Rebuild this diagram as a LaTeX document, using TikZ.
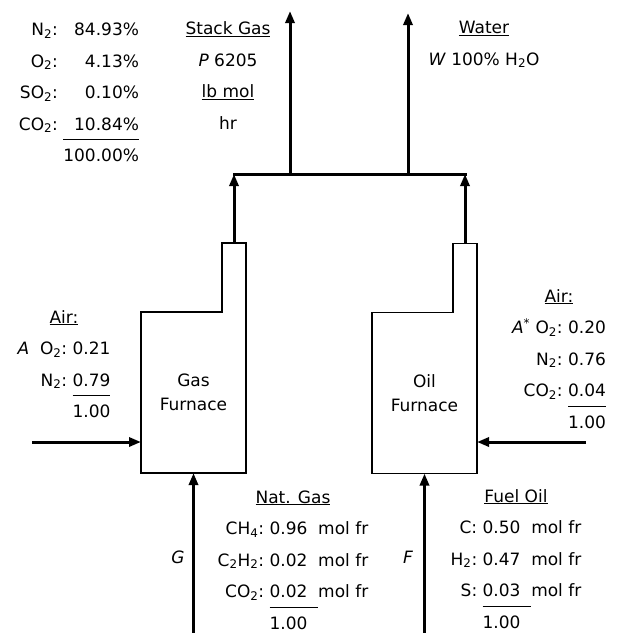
\documentclass[tikz,border=0pt]{standalone}
\usepackage{fontspec}
\setmainfont{DejaVu Sans}
\usetikzlibrary{arrows.meta,positioning}

\begin{document}
\begin{tikzpicture}[x=1pt, y=-1pt,
  font=\fontsize{17}{31.5}\selectfont,
  every node/.style={inner sep=0pt, outer sep=0pt},
  furnace/.style={minimum width=105pt, minimum height=161pt, align=center, font=\fontsize{17}{24}\selectfont},
  chimney/.style={minimum width=24pt, minimum height=69pt},
  unit/.style={line width=1.6pt, line join=miter},
  flow/.style={line width=3pt, -{Triangle[length=12pt, width=9pt]}},
  pipe/.style={line width=3pt, line cap=rect}]
\useasboundingbox (0,0) rectangle (623,633);

\node[furnace] (gas) at (193.5,392.5) {Gas\\Furnace};
\node[chimney, anchor=south east] (gaschim) at (gas.north east) {};
\draw[unit] (gas.south west) |- (gaschim.south west) |- (gaschim.north east) -- (gas.south east) -- cycle;

\node[furnace] (oil) at (424.5,393) {Oil\\Furnace};
\node[chimney, anchor=south east] (oilchim) at (oil.north east) {};
\draw[unit] (oil.south west) |- (oilchim.south west) |- (oilchim.north east) -- (oil.south east) -- cycle;

\coordinate (hdr) at (0,174);
\coordinate (floor) at (0,633);
\coordinate (stack) at (290,174);
\coordinate (stacktop) at (290,11);
\coordinate (water) at (408,174);
\coordinate (watertop) at (408,13);
\coordinate (airA) at (32,442);
\coordinate (airB) at (586,442);

\draw[flow] (gaschim.north) -- (gaschim.north |- hdr);
\draw[flow] (oilchim.north) -- (oilchim.north |- hdr);
\draw[pipe] (gaschim.north |- hdr) -- (oilchim.north |- hdr);
\draw[flow] (stack) -- (stacktop);
\draw[flow] (water) -- (watertop);
\draw[flow] (airA) -- (airA -| gas.west);
\draw[flow] (airB) -- (airB -| oil.east);
\draw[flow] (gas.south |- floor) -- (gas.south);
\draw[flow] (oil.south |- floor) -- (oil.south);

\node (G) at (178,557) {\textit{G}};
\node (F) at (408,557) {\textit{F}};

\node[anchor=base east] (pcomp) at (139,35.5) {\begin{tabular}[t]{@{}r@{\ }r@{}}
N\textsubscript{2}: & 84.93\% \\
O\textsubscript{2}: & 4.13\% \\
SO\textsubscript{2}: & 0.10\% \\
CO\textsubscript{2}: & 10.84\% \\ \cline{2-2}
 & 100.00\%
\end{tabular}};

\node[anchor=base] (stackgas) at (228,34.5) {\begin{tabular}[t]{@{}c@{}}
\underline{Stack Gas}\\
\textit{P} 6205\\
\underline{lb mol}\\
hr
\end{tabular}};

\node[anchor=base] (waterlbl) at (484,33.5) {\begin{tabular}[t]{@{}c@{}}
\underline{Water}\\
\textit{W} 100\% H\textsubscript{2}O
\end{tabular}};

\node[anchor=base] (airAlbl) at (64,323) {\begin{tabular}[t]{@{}r@{\ }l@{}}
\multicolumn{2}{@{}c@{}}{\underline{Air:}}\\
\textit{A}\ \ O\textsubscript{2}: & 0.21\\
N\textsubscript{2}: & 0.79\\ \cline{2-2}
 & 1.00
\end{tabular}};

\node[anchor=base] (airBlbl) at (559,302) {\begin{tabular}[t]{@{}r@{\ }l@{}}
\multicolumn{2}{@{}c@{}}{\underline{Air:}}\\
\textit{A}\textsuperscript{*} O\textsubscript{2}: & 0.20\\
N\textsubscript{2}: & 0.76\\
CO\textsubscript{2}: & 0.04\\ \cline{2-2}
 & 1.00
\end{tabular}};

\node[anchor=base] (natgas) at (293,503) {\begin{tabular}[t]{@{}r@{\ }l@{\ \ }l@{}}
\multicolumn{3}{@{}c@{}}{\underline{Nat. Gas}}\\
CH\textsubscript{4}: & 0.96 & mol fr\\
C\textsubscript{2}H\textsubscript{2}: & 0.02 & mol fr\\
CO\textsubscript{2}: & 0.02 & mol fr\\ \cline{2-2}
 & 1.00 &
\end{tabular}};

\node[anchor=base] (fueloil) at (516,502) {\begin{tabular}[t]{@{}r@{\ }l@{\ \ }l@{}}
\multicolumn{3}{@{}c@{}}{\underline{Fuel Oil}}\\
C: & 0.50 & mol fr\\
H\textsubscript{2}: & 0.47 & mol fr\\
S: & 0.03 & mol fr\\ \cline{2-2}
 & 1.00 &
\end{tabular}};
\end{tikzpicture}
\end{document}
